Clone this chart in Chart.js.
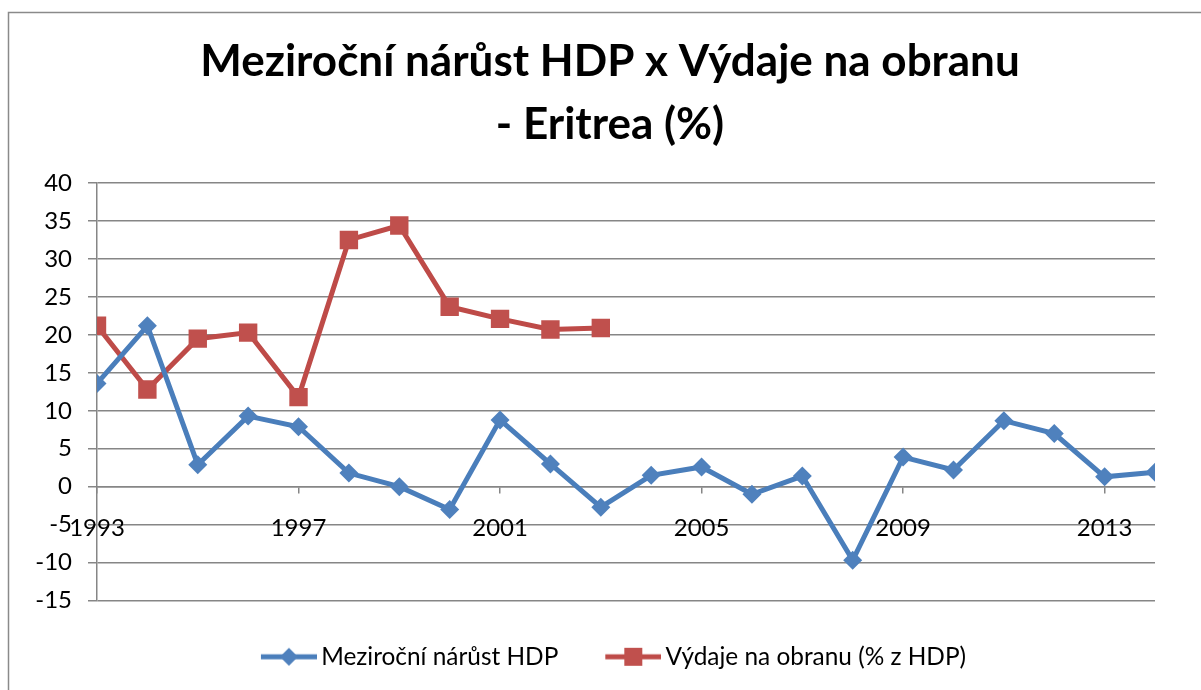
<!DOCTYPE html>
<html>
<head>
<meta charset="utf-8">
<script src="https://cdn.jsdelivr.net/npm/chart.js@4.4.1/dist/chart.umd.min.js"></script>
<style>
  html, body { margin: 0; padding: 0; background: #ffffff; }
  #wrap { width: 1201px; height: 690px; position: relative; }
</style>
</head>
<body>
<div id="wrap"><canvas id="c" width="1201" height="690"></canvas></div>
<script>
// ---- data ----
const years = [1993,1994,1995,1996,1997,1998,1999,2000,2001,2002,2003,2004,2005,2006,2007,2008,2009,2010,2011,2012,2013,2014];
const gdpGrowth = [13.6,21.2,2.9,9.3,7.9,1.8,0.0,-3.0,8.8,3.0,-2.7,1.5,2.6,-1.0,1.4,-9.7,3.9,2.2,8.7,7.0,1.3,1.9];
const defenceSpending = [21.2,12.8,19.5,20.3,11.8,32.5,34.4,23.7,22.1,20.7,20.9,null,null,null,null,null,null,null,null,null,null,null];
const xTickYears = [1993,1997,2001,2005,2009,2013];
const yTicks = [40,35,30,25,20,15,10,5,0,-5,-10,-15];
const titleLines = ['Meziroční nárůst HDP x Výdaje na obranu', '- Eritrea (%)'];
const seriesNames = ['Meziroční nárůst HDP', 'Výdaje na obranu (% z HDP)'];

// ---- styles ----
const BLUE_LINE = '#4A7EBB', BLUE_FILL = '#4F81BD';
const RED_LINE = '#BE4B48', RED_FILL = '#C0504D';
const GRID = '#868686';
const FONT = 'Lato';
const TITLE_CENTER_X = 610;
const LEGEND_CENTER_X = 612;
const LEGEND_BOX_W = 51;              // legend symbol slot width
const ICON_W = LEGEND_BOX_W + 16;     // canvas holding the line+marker symbol
const ICON_DRAW_W = 56;               // visible part of the symbol

function legendIcon(lineColor, fillColor, shape) {
  const cv = document.createElement('canvas');
  cv.width = ICON_W; cv.height = 20;
  const g = cv.getContext('2d');
  const x0 = ICON_W - ICON_DRAW_W, cx = x0 + ICON_DRAW_W / 2;
  g.strokeStyle = lineColor; g.lineWidth = 5;
  g.beginPath(); g.moveTo(x0, 10); g.lineTo(ICON_W, 10); g.stroke();
  g.fillStyle = fillColor;
  g.beginPath();
  if (shape === 'diamond') {
    g.moveTo(cx, 1); g.lineTo(cx + 9, 10); g.lineTo(cx, 19); g.lineTo(cx - 9, 10); g.closePath();
  } else {
    g.rect(cx - 9, 1, 18, 18);
  }
  g.fill();
  return cv;
}
const icons = [legendIcon(BLUE_LINE, BLUE_FILL, 'diamond'), legendIcon(RED_LINE, RED_FILL, 'square')];

const frame = {
  id: 'frame',
  beforeDraw(chart) {
    const ctx = chart.ctx;
    ctx.save();
    ctx.fillStyle = '#ffffff';
    ctx.fillRect(0, 0, chart.width, chart.height);
    ctx.strokeStyle = '#8a8a8a';
    ctx.lineWidth = 1.5;
    ctx.beginPath();
    ctx.moveTo(8.5, chart.height + 5);
    ctx.lineTo(8.5, 12.5);
    ctx.lineTo(chart.width + 5, 12.5);
    ctx.stroke();
    ctx.restore();
  }
};

// centre title and legend on the whole chart object (as the spreadsheet does)
const centerFix = {
  id: 'centerFix',
  afterLayout(chart) {
    if (chart.titleBlock) chart.titleBlock.left = 2 * TITLE_CENTER_X - chart.titleBlock.right;
    if (chart.legend) chart.legend.left = 2 * LEGEND_CENTER_X - chart.legend.right;
  }
};

new Chart(document.getElementById('c'), {
  type: 'line',
  data: {
    datasets: [
      {
        label: seriesNames[0],
        data: years.map((y, i) => ({x: y, y: gdpGrowth[i]})),
        borderColor: BLUE_LINE,
        backgroundColor: BLUE_FILL,
        borderWidth: 5,
        pointStyle: 'rectRot',
        pointRadius: 9.5,
        pointBorderWidth: 0,
        pointBackgroundColor: BLUE_FILL,
        tension: 0
      },
      {
        label: seriesNames[1],
        data: years.map((y, i) => ({x: y, y: defenceSpending[i]})),
        borderColor: RED_LINE,
        backgroundColor: RED_FILL,
        borderWidth: 5,
        pointStyle: 'rect',
        pointRadius: 13,
        pointBorderWidth: 0,
        pointBackgroundColor: RED_FILL,
        spanGaps: false,
        tension: 0
      }
    ]
  },
  options: {
    responsive: false,
    animation: false,
    layout: { padding: { left: 20, right: 46, top: 0, bottom: 11 } },
    plugins: {
      tooltip: { enabled: false },
      title: {
        display: true,
        text: titleLines,
        color: '#000000',
        font: { family: FONT, size: 44, weight: 'bold', lineHeight: 63 / 44 },
        padding: { top: 30.5, bottom: 26.5 }
      },
      legend: {
        display: true,
        position: 'bottom',
        labels: {
          usePointStyle: true,
          pointStyleWidth: LEGEND_BOX_W,
          padding: 44,
          color: '#000000',
          font: { family: FONT, size: 24.4 },
          generateLabels(chart) {
            return chart.data.datasets.map((ds, i) => ({
              text: ds.label,
              pointStyle: icons[i],
              datasetIndex: i,
              hidden: false,
              lineWidth: 0,
              strokeStyle: 'transparent',
              fillStyle: 'transparent',
              fontColor: '#000000'
            }));
          }
        }
      }
    },
    scales: {
      x: {
        type: 'linear',
        position: { y: 0 },
        min: years[0],
        max: years[years.length - 1],
        afterBuildTicks(scale) { scale.ticks = xTickYears.map(v => ({value: v})); },
        grid: { drawOnChartArea: false, drawTicks: true, tickLength: 6, color: GRID, lineWidth: 1.5 },
        border: { display: true, color: GRID, width: 1.5 },
        ticks: {
          autoSkip: false,
          maxRotation: 0,
          padding: 21.6,
          color: '#000000',
          font: { family: FONT, size: 24 },
          callback: v => String(v)
        }
      },
      y: {
        type: 'linear',
        min: yTicks[yTicks.length - 1],
        max: yTicks[0],
        afterBuildTicks(scale) { scale.ticks = yTicks.map(v => ({value: v})); },
        afterFit(scale) { scale.width = 77; },
        grid: { drawTicks: true, tickLength: 9, color: GRID, lineWidth: 1.5 },
        border: { display: true, color: GRID, width: 1.5 },
        ticks: {
          padding: 16,
          color: '#000000',
          font: { family: FONT, size: 24 },
          callback: v => String(v)
        }
      }
    }
  },
  plugins: [frame, centerFix]
});
</script>
</body>
</html>
